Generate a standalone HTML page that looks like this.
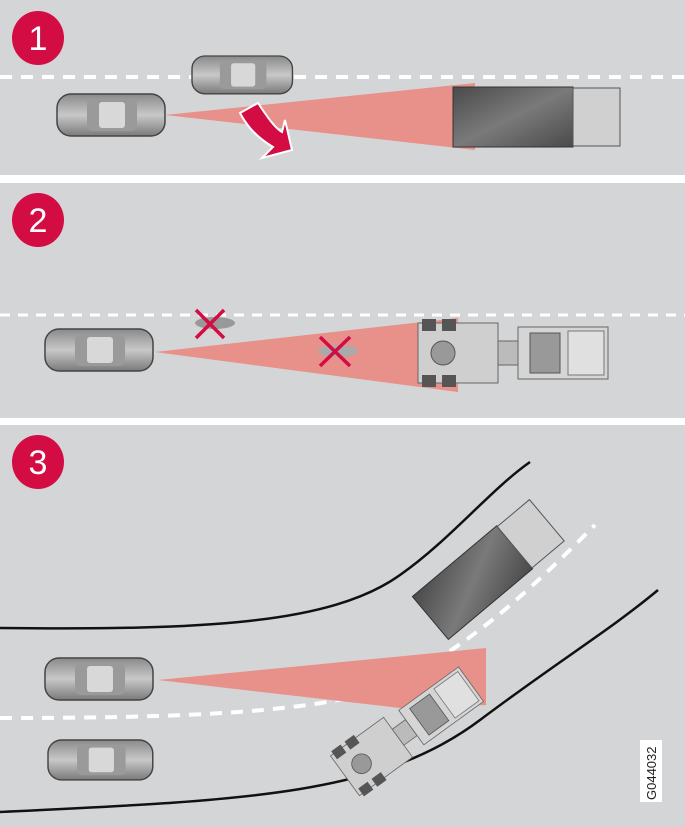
<!DOCTYPE html>
<html><head><style>body{margin:0}svg{display:block}</style></head><body>
<svg width="685" height="827" viewBox="0 0 685 827" xmlns="http://www.w3.org/2000/svg" font-family="Liberation Sans, sans-serif">
<defs>
<linearGradient id="car" x1="0" y1="0" x2="0" y2="1"><stop offset="0" stop-color="#8a8a8a"/><stop offset=".5" stop-color="#c8c8c8"/><stop offset="1" stop-color="#7a7a7a"/></linearGradient>
<linearGradient id="box" x1="0" y1="0" x2="1" y2="1"><stop offset="0" stop-color="#4a4a4a"/><stop offset=".5" stop-color="#7a7a7a"/><stop offset="1" stop-color="#4a4a4a"/></linearGradient>
<g id="carS">
<rect x="0" y="0" width="108" height="42" rx="14" fill="url(#car)" stroke="#444" stroke-width="1.5"/>
<rect x="30" y="5" width="50" height="32" rx="5" fill="#9a9a9a"/>
<rect x="42" y="8" width="26" height="26" rx="3" fill="#d8d8d8"/>
</g>
<g id="semi">
<rect x="0" y="0" width="80" height="60" fill="#cfcfcf" stroke="#666"/>
<circle cx="25" cy="30" r="12" fill="#999" stroke="#555"/>
<rect x="4" y="-4" width="14" height="12" fill="#555"/><rect x="24" y="-4" width="14" height="12" fill="#555"/>
<rect x="4" y="52" width="14" height="12" fill="#555"/><rect x="24" y="52" width="14" height="12" fill="#555"/>
<rect x="80" y="18" width="20" height="24" fill="#bbb" stroke="#666"/>
<rect x="100" y="4" width="90" height="52" fill="#d5d5d5" stroke="#666"/>
<rect x="112" y="10" width="30" height="40" fill="#999" stroke="#555"/>
<rect x="150" y="8" width="36" height="44" fill="#e0e0e0" stroke="#777"/>
</g>
</defs>
<rect width="685" height="827" fill="#d4d5d7"/>
<rect y="175" width="685" height="8" fill="#fff"/>
<rect y="418" width="685" height="7" fill="#fff"/>

<!-- Panel 1 -->
<ellipse cx="38" cy="38" rx="26" ry="27" fill="#d30c44"/>
<text x="38" y="50" font-size="34" fill="#fff" text-anchor="middle">1</text>
<line x1="0" y1="77" x2="685" y2="77" stroke="#fff" stroke-width="4" stroke-dasharray="12 9"/>
<use href="#carS" x="57" y="94"/>
<use href="#carS" x="192" y="56" transform="translate(192 56) scale(0.93 0.9) translate(-192 -56)"/>
<polygon points="165,115 475,83 475,150" fill="#e8908a"/>
<rect x="453" y="87" width="120" height="60" fill="url(#box)" stroke="#333"/>
<rect x="573" y="88" width="47" height="58" fill="#d0d0d0" stroke="#555"/>
<path d="M240,113 L258,103 C268,118 275,128 282,132 L285,120 L292,150 L262,158 L273,147 C258,138 248,128 240,113 Z" fill="#d30c44" stroke="#fff" stroke-width="2"/>

<!-- Panel 2 -->
<ellipse cx="38" cy="220" rx="26" ry="27" fill="#d30c44"/>
<text x="38" y="232" font-size="34" fill="#fff" text-anchor="middle">2</text>
<line x1="0" y1="315" x2="685" y2="315" stroke="#fff" stroke-width="3" stroke-dasharray="10 8"/>
<use href="#carS" x="45" y="329"/>
<polygon points="155,352 458,318 458,392" fill="#e8908a"/>
<ellipse cx="215" cy="323" rx="20" ry="6" fill="#999"/>
<ellipse cx="338" cy="351" rx="20" ry="6" fill="#aaa"/>
<path d="M196,310 L224,338 M224,310 L196,338" stroke="#d30c44" stroke-width="3.5"/>
<path d="M320,337 L350,366 M350,337 L320,366" stroke="#d30c44" stroke-width="3.5"/>
<use href="#semi" x="418" y="323"/>

<!-- Panel 3 -->
<ellipse cx="38" cy="462" rx="26" ry="27" fill="#d30c44"/>
<text x="38" y="474" font-size="34" fill="#fff" text-anchor="middle">3</text>
<path d="M0,628 C200,630 330,625 400,575 C450,540 490,490 530,462" fill="none" stroke="#111" stroke-width="2.5"/>
<path d="M0,812 C250,800 380,795 480,720 C560,660 610,630 658,590" fill="none" stroke="#111" stroke-width="2.5"/>
<path d="M0,718 C150,718 300,715 380,690 C470,650 540,580 595,525" fill="none" stroke="#fff" stroke-width="4" stroke-dasharray="12 9"/>
<use href="#carS" x="45" y="658"/>
<use href="#carS" x="48" y="740" transform="translate(48 740) scale(0.97 0.95) translate(-48 -740)"/>
<polygon points="158,680 486,648 486,705 400,708" fill="#e8908a"/>
<g transform="translate(484 573) rotate(-40)">
<rect x="-70" y="-28" width="110" height="56" fill="url(#box)" stroke="#333"/>
<rect x="40" y="-27" width="42" height="54" fill="#d0d0d0" stroke="#555"/>
</g>
<g transform="translate(408 730) rotate(-36) scale(0.82) translate(-95 -30)"><use href="#semi" x="0" y="0"/></g>
<rect x="640" y="740" width="22" height="62" fill="#fff"/>
<text transform="translate(656 800) rotate(-90)" font-size="13" fill="#222">G044032</text>
</svg>
</body></html>
